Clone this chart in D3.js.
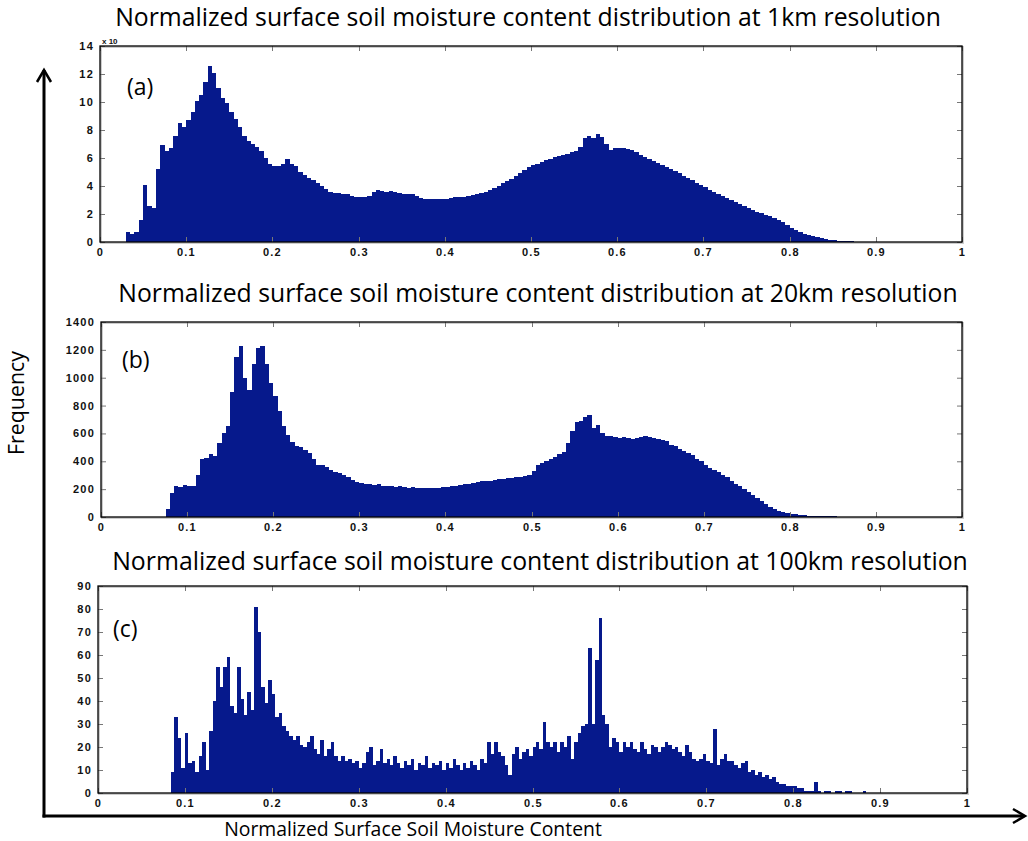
<!DOCTYPE html>
<html>
<head>
<meta charset="utf-8">
<script src="https://cdn.jsdelivr.net/npm/d3@7"></script>
<style>
  body { margin: 0; background: #fff; }
  .tick text { font-family: "Liberation Sans", Arial, sans-serif; font-weight: bold; font-size: 11px; letter-spacing: 1.2px; fill: #111; }
  .tick line { stroke: #777; }
  .title { font-family: "Open Sans", sans-serif; fill: #000; }
</style>
</head>
<body>
<script>
// (a) 1km resolution, values in units of 10^x, bins of 0.005 starting at 0.025
var startA = 0.025, stepA = 0.005;
var valuesA = [
  0, 0.7, 0.55, 0.7, 1.6, 4.1, 2.6, 2.4, 5.2, 6.9,
  6.5, 6.7, 7.6, 8.5, 8.2, 8.7, 9.3, 10.1, 10.5, 11.4,
  12.6, 12.1, 11.0, 10.3, 9.9, 9.3, 8.8, 8.2, 7.6, 7.2,
  7.0, 6.8, 6.5, 6.0, 5.6, 5.4, 5.4, 5.6, 5.9, 5.6,
  5.4, 5.0, 4.8, 4.6, 4.4, 4.2, 4.0, 3.8, 3.6, 3.5,
  3.5, 3.4, 3.4, 3.3, 3.25, 3.2, 3.2, 3.3, 3.6, 3.7,
  3.65, 3.6, 3.65, 3.6, 3.5, 3.4, 3.45, 3.4, 3.3, 3.15,
  3.1, 3.05, 3.05, 3.05, 3.1, 3.1, 3.15, 3.2, 3.2, 3.25,
  3.3, 3.35, 3.4, 3.5, 3.6, 3.7, 3.85, 4.0, 4.2, 4.35,
  4.5, 4.7, 4.9, 5.15, 5.35, 5.5, 5.6, 5.7, 5.85, 5.95,
  6.05, 6.15, 6.25, 6.3, 6.4, 6.5, 6.8, 7.4, 7.6, 7.4,
  7.7, 7.5, 7.0, 6.6, 6.7, 6.75, 6.7, 6.65, 6.55, 6.4,
  6.25, 6.1, 5.95, 5.8, 5.65, 5.5, 5.35, 5.2, 5.05, 4.9,
  4.75, 4.6, 4.4, 4.25, 4.1, 3.9, 3.75, 3.6, 3.45, 3.3,
  3.15, 3.0, 2.85, 2.7, 2.55, 2.4, 2.3, 2.15, 2.05, 1.95,
  1.85, 1.75, 1.6, 1.4, 1.2, 1.0, 0.85, 0.7, 0.6, 0.5,
  0.42, 0.35, 0.28, 0.22, 0.17, 0.13, 0.1, 0.07, 0.05, 0.04,
  0.03, 0.02, 0.015, 0.01, 0.005
];
var ticksA = [0, 2, 4, 6, 8, 10, 12, 14];

// (b) 20km resolution, bins of 0.005 starting at 0.075
var startB = 0.075, stepB = 0.005;
var valuesB = [
  60, 170, 225, 215, 230, 220, 225, 300, 420, 425,
  455, 440, 530, 600, 650, 900, 1150, 1230, 1000, 910,
  1100, 1210, 1225, 1100, 960, 870, 760, 650, 590, 540,
  510, 500, 480, 460, 420, 375, 370, 360, 340, 325,
  315, 300, 290, 265, 250, 245, 240, 235, 230, 235,
  225, 225, 220, 215, 220, 215, 210, 215, 210, 205,
  210, 205, 210, 210, 215, 215, 220, 225, 230, 235,
  240, 245, 250, 255, 260, 260, 265, 270, 275, 280,
  280, 285, 285, 295, 300, 330, 375, 390, 400, 420,
  430, 450, 470, 530, 620, 680, 690, 720, 730, 640,
  660, 600, 585, 580, 575, 570, 575, 565, 560, 570,
  575, 580, 575, 570, 560, 555, 545, 515, 510, 485,
  475, 460, 445, 420, 400, 375, 350, 335, 320, 300,
  285, 260, 240, 220, 200, 180, 160, 135, 115, 90,
  70, 60, 45, 35, 28, 22, 18, 14, 12, 9,
  8, 7, 6, 5, 4, 4, 3, 3, 2, 2,
  2, 1, 1, 1, 0
];
var ticksB = [0, 200, 400, 600, 800, 1000, 1200, 1400];

// (c) 100km resolution, bins of 0.004 starting at 0.084
var startC = 0.084, stepC = 0.004;
var valuesC = [
  9, 33, 24, 11, 26, 13, 14, 9, 16, 22,
  10, 27, 40, 55, 46, 55, 59, 38, 35, 55,
  41, 34, 44, 36, 81, 70, 46, 39, 49, 43,
  33, 35, 29, 27, 25, 23, 25, 21, 20, 22,
  25, 19, 17, 23, 16, 19, 22, 16, 14, 16,
  14, 15, 13, 14, 11, 13, 18, 20, 12, 14,
  19, 13, 15, 12, 16, 13, 11, 14, 12, 15,
  10, 13, 12, 16, 11, 13, 12, 14, 10, 13,
  11, 15, 12, 10, 13, 11, 14, 12, 10, 15,
  13, 22, 17, 22, 18, 16, 12, 8, 17, 20,
  15, 18, 19, 16, 20, 22, 19, 31, 22, 20,
  22, 18, 22, 20, 25, 15, 22, 26, 29, 30,
  63, 30, 58, 76, 34, 30, 20, 24, 22, 18,
  22, 20, 22, 19, 18, 22, 19, 17, 21, 20,
  18, 20, 22, 21, 19, 20, 18, 16, 21, 18,
  15, 14, 15, 17, 14, 13, 28, 12, 15, 17,
  14, 14, 12, 11, 13, 14, 9, 10, 8, 9,
  7, 8, 6, 7, 5, 4, 4, 3, 3, 3,
  2, 2, 1, 1, 1, 5, 1, 0, 1, 1,
  0, 1, 1, 0, 1, 1, 0, 0, 0, 1, 0
];
var ticksC = [0, 10, 20, 30, 40, 50, 60, 70, 80, 90];

var xTicks = [0, 0.1, 0.2, 0.3, 0.4, 0.5, 0.6, 0.7, 0.8, 0.9, 1];
var titles = [
  'Normalized surface soil moisture content distribution at 1km resolution',
  'Normalized surface soil moisture content distribution at 20km resolution',
  'Normalized surface soil moisture content distribution at 100km resolution'
];
var panelLabels = ['(a)', '(b)', '(c)'];

var width = 1028;
var height = 841;
var barColor = '#06198c';

var svg = d3.select('body')
            .append('svg')
            .attr('width', width)
            .attr('height', height);

var panels = [
  { values: valuesA, start: startA, step: stepA, yTicks: ticksA, yMax: 14,
    left: 100, right: 962, top: 46, bottom: 242,
    title: titles[0], titleX: 528, titleY: 26, titleW: 826,
    label: panelLabels[0], labelX: 127, labelY: 95 },
  { values: valuesB, start: startB, step: stepB, yTicks: ticksB, yMax: 1400,
    left: 101, right: 962, top: 322, bottom: 517,
    title: titles[1], titleX: 538, titleY: 302, titleW: 840,
    label: panelLabels[1], labelX: 122, labelY: 368 },
  { values: valuesC, start: startC, step: stepC, yTicks: ticksC, yMax: 90,
    left: 98, right: 967, top: 586, bottom: 793,
    title: titles[2], titleX: 540, titleY: 570, titleW: 856,
    label: panelLabels[2], labelX: 113, labelY: 637 }
];

// shrink or grow a text to a target width
function fitText(sel, target) {
  var node = sel.node();
  var fs = parseFloat(sel.attr('font-size'));
  var w = node.getComputedTextLength();
  sel.attr('font-size', fs * target / w);
}

panels.forEach(function (p) {
  var x = d3.scaleLinear().domain([0, 1]).rangeRound([p.left, p.right]);
  var y = d3.scaleLinear().domain([0, p.yMax]).range([p.bottom, p.top]);
  var g = svg.append('g');

  // soft frame shadow like the exported figure
  g.append('rect')
    .attr('x', p.left + 1).attr('y', p.top + 1)
    .attr('width', p.right - p.left).attr('height', p.bottom - p.top)
    .attr('fill', 'none').attr('stroke', '#ccc').attr('stroke-width', 2);

  g.selectAll('.bar')
    .data(p.values)
    .enter()
    .append('rect')
    .attr('class', 'bar')
    .attr('x', function (d, i) { return x(p.start + i * p.step); })
    .attr('width', function (d, i) { return x(p.start + (i + 1) * p.step) - x(p.start + i * p.step); })
    .attr('y', function (d) { return y(d); })
    .attr('height', function (d) { return y(0) - y(d); })
    .attr('fill', barColor)
    .attr('shape-rendering', 'crispEdges');

  var fmt = d3.format('~g');
  g.append('g')
    .attr('transform', 'translate(0,' + p.bottom + ')')
    .call(d3.axisBottom(x).tickValues(xTicks).tickFormat(fmt).tickSizeInner(-5).tickSizeOuter(0).tickPadding(6))
    .call(function (a) { a.select('.domain').remove(); });
  g.append('g')
    .attr('transform', 'translate(0,' + p.top + ')')
    .call(d3.axisTop(x).tickValues(xTicks).tickFormat('').tickSizeInner(-5).tickSizeOuter(0))
    .call(function (a) { a.select('.domain').remove(); });
  g.append('g')
    .attr('transform', 'translate(' + p.left + ',0)')
    .call(d3.axisLeft(y).tickValues(p.yTicks).tickFormat(d3.format('d')).tickSizeInner(-5).tickSizeOuter(0).tickPadding(6))
    .call(function (a) { a.select('.domain').remove(); });
  g.append('g')
    .attr('transform', 'translate(' + p.right + ',0)')
    .call(d3.axisRight(y).tickValues(p.yTicks).tickFormat('').tickSizeInner(-5).tickSizeOuter(0))
    .call(function (a) { a.select('.domain').remove(); });

  g.append('rect')
    .attr('x', p.left).attr('y', p.top)
    .attr('width', p.right - p.left).attr('height', p.bottom - p.top)
    .attr('fill', 'none').attr('stroke', '#000').attr('stroke-width', 1.3);

  var t = g.append('text')
    .attr('class', 'title')
    .attr('x', p.titleX).attr('y', p.titleY)
    .attr('text-anchor', 'middle')
    .attr('font-size', 20)
    .text(p.title);
  fitText(t, p.titleW);

  g.append('text')
    .attr('class', 'title')
    .attr('x', p.labelX).attr('y', p.labelY)
    .attr('font-size', 23)
    .text(p.label);
});

// exponent note on the first panel
svg.append('text')
  .attr('x', 102).attr('y', 44)
  .attr('font-family', '"Liberation Sans", Arial, sans-serif')
  .attr('font-weight', 'bold')
  .attr('font-size', 8)
  .attr('fill', '#111')
  .text('x 10');

// big frequency / moisture arrows
var axisX = 44, axisY = 816;
svg.append('line')
  .attr('x1', axisX).attr('y1', axisY + 1.5).attr('x2', axisX).attr('y2', 70)
  .attr('stroke', '#000').attr('stroke-width', 3);
svg.append('path')
  .attr('d', 'M' + (axisX - 7) + ',82 L' + axisX + ',70 L' + (axisX + 7) + ',82')
  .attr('fill', 'none').attr('stroke', '#000').attr('stroke-width', 2.5);
svg.append('line')
  .attr('x1', axisX - 1.5).attr('y1', axisY).attr('x2', 1024).attr('y2', axisY)
  .attr('stroke', '#000').attr('stroke-width', 3);
svg.append('path')
  .attr('d', 'M1013,' + (axisY - 7) + ' L1025,' + axisY + ' L1013,' + (axisY + 7))
  .attr('fill', 'none').attr('stroke', '#000').attr('stroke-width', 2.5);

var xl = svg.append('text')
  .attr('class', 'title')
  .attr('x', 413).attr('y', 836)
  .attr('text-anchor', 'middle')
  .attr('font-size', 17)
  .text('Normalized Surface Soil Moisture Content');
fitText(xl, 378);

var yl = svg.append('text')
  .attr('class', 'title')
  .attr('transform', 'translate(24,403) rotate(-90)')
  .attr('text-anchor', 'middle')
  .attr('font-size', 17)
  .text('Frequency');
fitText(yl, 104);
</script>
</body>
</html>
